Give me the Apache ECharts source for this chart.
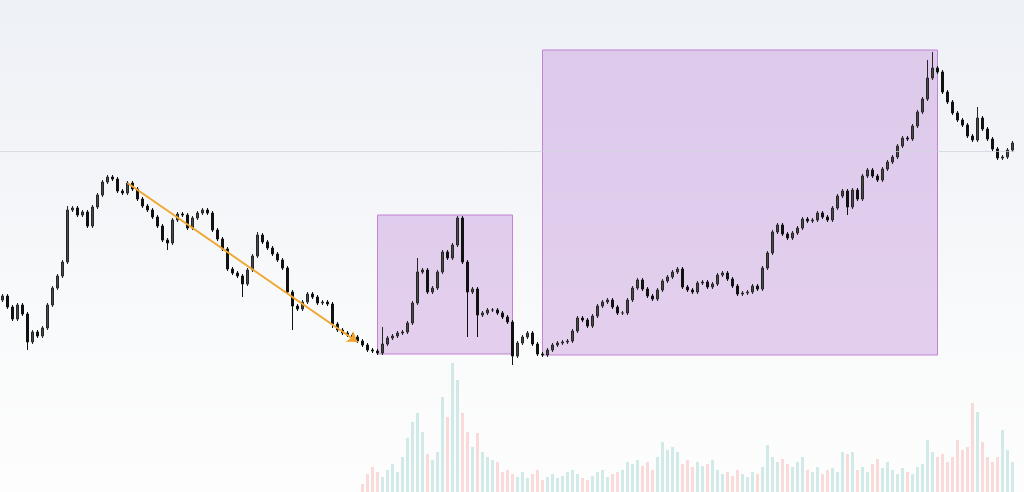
<!DOCTYPE html>
<html>
<head>
<meta charset="utf-8">
<script src="https://cdn.jsdelivr.net/npm/echarts@6/dist/echarts.min.js"></script>
<style>
html,body{margin:0;padding:0;width:1024px;height:492px;overflow:hidden;background:#fff;}
#chart{width:1024px;height:492px;}
</style>
</head>
<body>
<div id="chart"></div>
<script>
// closing prices (arbitrary price units)
const firstOpen = 200;
const closes = [
204,193,181,195,186,158,168,164,172,195,
212,224,238,290,292,285,288,274,293,305,
318,323,321,309,307,317,311,301,294,290,
283,274,260,257,280,286,285,272,282,287,
290,287,270,261,251,231,227,224,216,230,
244,265,258,252,246,240,232,208,194,191,
198,206,203,197,198,196,176,170,167,165,
163,159,155,150,149,147,156,162,164,167,
168,177,197,228,230,208,212,228,248,242,
255,282,238,208,211,185,187,190,190,187,
183,178,144,157,163,167,156,146,145,150,
155,157,158,159,169,182,180,174,184,194,
198,200,193,187,187,200,212,220,211,204,
201,210,219,223,228,231,213,210,208,217,
218,213,216,225,227,221,214,206,207,208,
214,211,232,247,268,275,266,262,267,272,
281,279,280,287,283,280,292,304,309,293,
310,301,324,330,324,320,331,338,343,354,
362,361,374,388,401,422,432,428,408,398,
387,380,375,364,360,382,371,361,351,342,
343,350,357
];
// long wicks: [candle index, extreme price]
const wickLows = [[5,150],[33,250],[48,203],[58,170],[93,163],[95,163],[102,135],[169,285],[66,172]];
const wickHighs = [[76,173],[83,242],[91,284],[185,440],[186,448],[195,393],[13,294],[51,268]];
// volume (arbitrary units)
const volumes = [
0,0,0,0,0,0,0,0,0,0,
0,0,0,0,0,0,0,0,0,0,
0,0,0,0,0,0,0,0,0,0,
0,0,0,0,0,0,0,0,0,0,
0,0,0,0,0,0,0,0,0,0,
0,0,0,0,0,0,0,0,0,0,
0,0,0,0,0,0,0,0,0,0,
0,0,8,18,25,20,15,22,28,20,
35,54,70,79,60,38,32,40,95,75,
129,112,79,60,45,59,40,35,32,30,
20,22,18,15,20,14,18,22,12,15,
18,14,16,20,22,18,14,12,16,20,
22,15,18,20,22,30,28,32,26,30,
22,35,50,42,45,40,28,32,25,30,
26,28,32,22,18,20,16,22,18,15,
20,18,25,47,35,30,33,28,25,30,
35,22,20,25,18,22,24,20,40,38,
40,22,25,20,28,33,24,30,22,18,
24,20,18,25,28,52,40,35,38,30,
35,52,42,45,89,80,50,35,30,35,
62,42,30
];
// boxes: [startIndex, endIndex, lowPrice, highPrice]
const boxes = [[75, 102, 146, 285], [108, 187, 145, 450]];
// trend arrow: [index, price] -> [index, price]
const arrowFrom = [25, 317];
const arrowTo = [71, 158];
const refLevel = 349;

const categories = closes.map((_, i) => String(i));
const opens = closes.map((c, i) => i === 0 ? firstOpen : closes[i - 1]);
const lowMap = new Map(wickLows);
const highMap = new Map(wickHighs);
const candles = closes.map((c, i) => {
  const o = opens[i];
  const lo = lowMap.has(i) ? lowMap.get(i) : Math.min(o, c) - 2;
  const hi = highMap.has(i) ? highMap.get(i) : Math.max(o, c) + 2;
  return [o, c, lo, hi];
});
const volData = volumes.map((v, i) => ({
  value: v,
  itemStyle: { color: closes[i] >= opens[i] ? 'rgba(38,166,154,0.2)' : 'rgba(239,83,80,0.2)' }
}));

const chart = echarts.init(document.getElementById('chart'), null, { renderer: 'canvas' });
chart.setOption({
  animation: false,
  backgroundColor: {
    type: 'linear', x: 0, y: 0, x2: 0, y2: 1,
    colorStops: [
      { offset: 0, color: '#eef1f6' },
      { offset: 0.3, color: '#f2f4f8' },
      { offset: 0.65, color: '#f9fafb' },
      { offset: 1, color: '#fdfdfd' }
    ]
  },
  grid: [
    { left: 0, right: 9, top: 0, bottom: 0 },
    { left: 0, right: 9, top: 360, bottom: 0 }
  ],
  xAxis: [
    { type: 'category', data: categories, gridIndex: 0, show: false },
    { type: 'category', data: categories, gridIndex: 1, show: false }
  ],
  yAxis: [
    { type: 'value', gridIndex: 0, min: 8, max: 500, show: false, splitLine: { show: false } },
    { type: 'value', gridIndex: 1, min: 0, max: 132, show: false, splitLine: { show: false } }
  ],
  series: [
    {
      type: 'bar',
      xAxisIndex: 1, yAxisIndex: 1,
      data: volData,
      barWidth: 3,
      z: 1
    },
    {
      type: 'candlestick',
      xAxisIndex: 0, yAxisIndex: 0,
      data: candles,
      barWidth: 3,
      z: 3,
      itemStyle: {
        color: '#4a4a4a', color0: '#111111',
        borderColor: '#262626', borderColor0: '#111111',
        borderWidth: 1
      },
      markArea: {
        silent: true,
        itemStyle: {
          color: 'rgba(198,150,218,0.44)',
          borderColor: 'rgba(190,120,210,0.9)',
          borderWidth: 1
        },
        data: boxes.map(b => [
          { xAxis: String(b[0]), yAxis: b[3] },
          { xAxis: String(b[1]), yAxis: b[2] }
        ])
      },
      markLine: {
        silent: true,
        animation: false,
        label: { show: false },
        data: [
          [
            { xAxis: String(arrowFrom[0]), yAxis: arrowFrom[1], symbol: 'none',
              lineStyle: { color: '#f0a630', width: 2, type: 'solid' } },
            { xAxis: String(arrowTo[0]), yAxis: arrowTo[1], symbol: 'arrow', symbolSize: 10 }
          ],
          {
            yAxis: refLevel, symbol: 'none',
            lineStyle: { color: 'rgba(205,210,220,0.7)', width: 1, type: 'solid' }
          }
        ],
        symbol: ['none', 'none']
      }
    }
  ]
});
</script>
</body>
</html>
